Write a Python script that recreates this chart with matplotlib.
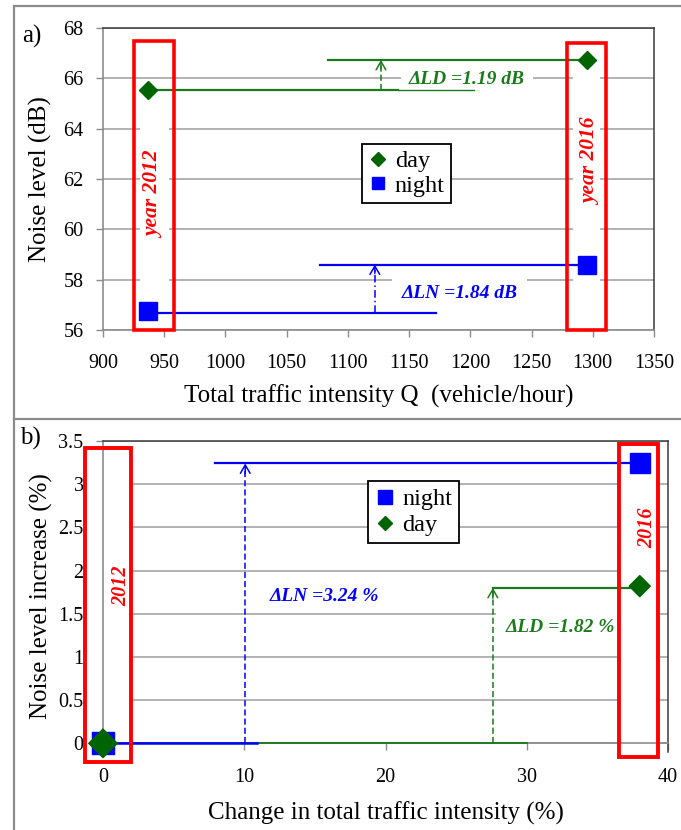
import matplotlib
matplotlib.use('Agg')
import matplotlib.pyplot as plt
from matplotlib.lines import Line2D
from matplotlib.patches import Rectangle
from matplotlib.ticker import FormatStrFormatter

plt.rcParams['font.family'] = ['Liberation Serif', 'DejaVu Serif']

# panel a) noise level vs traffic intensity
q_a = [937, 1295]            # vehicle/hour, 2012 and 2016
day_a = [65.54, 66.73]       # dB
night_a = [56.76, 58.60]     # dB
years = ['2012', '2016']

# panel b) relative increase
dq_b = [0, 38]               # change in traffic intensity (%)
night_b = [0, 3.24]          # %
day_b = [0, 1.82]            # %

GREEN = '#006400'
GLINE = '#1b7a1b'
BLUE = '#0000ff'
RED = '#ff0000'
GRID = '#a6a6a6'

W, H = 681, 830
fig = plt.figure(figsize=(W / 100, H / 100), dpi=100)


def px_axes(l, t, r, b):
    return fig.add_axes([l / W, 1 - b / H, (r - l) / W, (b - t) / H])


def style(ax):
    ax.set_axisbelow(True)
    ax.grid(axis='y', color=GRID, lw=1.2)
    for s in ['left', 'bottom']:
        ax.spines[s].set_color('#8c8c8c')
        ax.spines[s].set_linewidth(1.2)
    for s in ['top', 'right']:
        ax.spines[s].set_color('#3a3a3a')
        ax.spines[s].set_linewidth(1.1)
    ax.tick_params(direction='out', length=5, width=1, color='#8c8c8c',
                   labelsize=14.5, pad=9)
    ax.tick_params(axis='x', pad=12.5)


def arrow(ax, x, y0, y1, color, dashes, head):
    ax.plot([x, x], [y0, y1 - head * 0.3], color=color, lw=1.1, dashes=dashes, zorder=3)
    ax.annotate('', xy=(x, y1), xytext=(x, y1 - head),
                arrowprops=dict(arrowstyle='->,head_length=0.6,head_width=0.35',
                                color=color, lw=1.1, shrinkA=0, shrinkB=0), zorder=3)


# ---------------- a) ----------------
ax1 = px_axes(103, 28, 654, 330)
style(ax1)
ax1.set_xlim(900, 1350)
ax1.set_ylim(56, 68)
ax1.set_xticks(range(900, 1351, 50))
ax1.set_yticks(range(56, 69, 2))
ax1.set_xlabel('Total traffic intensity Q  (vehicle/hour)', fontsize=18, labelpad=8)
ax1.set_ylabel('Noise level (dB)', fontsize=18, labelpad=8)

# year boxes
ax1.add_patch(Rectangle((930, 57.3), 24, 7.9, fc='white', ec='none', zorder=1.5))
ax1.add_patch(Rectangle((1284, 57.5), 22, 9.0, fc='white', ec='none', zorder=1.5))
ax1.add_patch(Rectangle((925, 56), 33, 11.5, fill=False, ec=RED, lw=2.6, zorder=4, clip_on=False))
ax1.add_patch(Rectangle((1279, 56), 32, 11.4, fill=False, ec=RED, lw=2.6, zorder=4, clip_on=False))
ax1.text(942, 61.37, 'year ' + years[0], rotation=90, color=RED, fontsize=15.5,
         fontweight='bold', fontstyle='italic', ha='center', va='center', zorder=2)
ax1.text(1299, 62.68, 'year ' + years[1], rotation=90, color=RED, fontsize=15.5,
         fontweight='bold', fontstyle='italic', ha='center', va='center', zorder=2)

# difference lines
ax1.plot([1084, q_a[1]], [day_a[1]] * 2, color=GLINE, lw=1.6, zorder=3)
ax1.plot([q_a[0], 1141], [day_a[0]] * 2, color=GLINE, lw=1.6, zorder=3)
ax1.plot([1141, 1203], [day_a[0]] * 2, color=GLINE, lw=1.0, zorder=3)
arrow(ax1, 1127, day_a[0], day_a[1], GLINE, (4, 2), 0.35)
ax1.plot([1077, q_a[1]], [night_a[1]] * 2, color=BLUE, lw=1.6, zorder=3)
ax1.plot([q_a[0], 1172], [night_a[0] - 0.08] * 2, color=BLUE, lw=1.6, zorder=3)
arrow(ax1, 1122, night_a[0] - 0.08, night_a[1], BLUE, (5, 2, 1, 2), 0.35)

ax1.text(1150, 65.97, 'ΔLD =%.2f dB' % (day_a[1] - day_a[0]), color=GLINE, fontsize=14,
         fontweight='bold', fontstyle='italic', ha='left', va='center', zorder=2.8,
         bbox=dict(boxstyle='square,pad=0.4', fc='white', ec='none'))
ax1.text(1144, 57.47, 'ΔLN =%.2f dB' % (night_a[1] - night_a[0]), color=BLUE, fontsize=14,
         fontweight='bold', fontstyle='italic', ha='left', va='center', zorder=2.8,
         bbox=dict(boxstyle='square,pad=0.5', fc='white', ec='none'))

ax1.plot(q_a, day_a, 'D', color=GREEN, ms=9.2, zorder=6, clip_on=False)
ax1.plot(q_a, night_a, 's', color=BLUE, ms=13, zorder=6, clip_on=False)

h_day = Line2D([], [], ls='none', marker='D', color=GREEN, ms=7)
h_night = Line2D([], [], ls='none', marker='s', color=BLUE, ms=9)
leg = ax1.legend([h_day, h_night], ['day', 'night'], loc='upper left',
                 bbox_to_anchor=(0.47, 0.616), borderaxespad=0, fontsize=17.5,
                 fancybox=False, edgecolor='black', framealpha=1, borderpad=0.25,
                 labelspacing=0.1, handlelength=0.8, handletextpad=0.3)
leg.get_frame().set_linewidth(1.3)
leg.set_zorder(7)

# ---------------- b) ----------------
ax2 = px_axes(103, 441, 668, 752)
style(ax2)
ax2.set_xlim(0, 40)
ax2.set_ylim(-0.1, 3.5)
ax2.spines['bottom'].set_position(('data', 0))
ax2.set_xticks(range(0, 41, 10))
ax2.set_yticks([0, 0.5, 1, 1.5, 2, 2.5, 3, 3.5])
ax2.yaxis.set_major_formatter(FormatStrFormatter('%g'))
ax2.set_xlabel('Change in total traffic intensity (%)', fontsize=18, labelpad=11)
ax2.set_ylabel('Noise level increase (%)', fontsize=18, labelpad=4)

ax2.add_patch(Rectangle((-1.27, -0.21), 3.25, 3.63, fc='white', ec='none', zorder=1.5, clip_on=False))
ax2.add_patch(Rectangle((36.5, -0.16), 2.8, 3.63, fc='white', ec='none', zorder=1.5, clip_on=False))
ax2.add_patch(Rectangle((-1.27, -0.21), 3.25, 3.63, fill=False, ec=RED, lw=2.8, zorder=4, clip_on=False))
ax2.add_patch(Rectangle((36.5, -0.16), 2.8, 3.63, fill=False, ec=RED, lw=2.8, zorder=4, clip_on=False))
ax2.text(1.27, 1.82, years[0], rotation=90, color=RED, fontsize=14.5,
         fontweight='bold', fontstyle='italic', ha='center', va='center', zorder=2)
ax2.text(38.5, 2.50, years[1], rotation=90, color=RED, fontsize=14.5,
         fontweight='bold', fontstyle='italic', ha='center', va='center', zorder=2)

ax2.plot([dq_b[0], 30.0], [day_b[0]] * 2, color=GLINE, lw=1.3, zorder=3)
ax2.plot([dq_b[0], 10.9], [night_b[0]] * 2, color=BLUE, lw=1.8, zorder=3.1)
ax2.plot([7.9, dq_b[1]], [night_b[1]] * 2, color=BLUE, lw=1.6, zorder=3)
ax2.plot([27.6, dq_b[1]], [day_b[1] - 0.02] * 2, color=GLINE, lw=1.6, zorder=3)
arrow(ax2, 10.07, 0, night_b[1], BLUE, (4, 2), 0.12)
arrow(ax2, 27.6, 0, day_b[1] - 0.02, GLINE, (4, 2), 0.12)

ax2.text(11.8, 1.70, 'ΔLN =%.2f %%' % night_b[1], color=BLUE, fontsize=14,
         fontweight='bold', fontstyle='italic', ha='left', va='center', zorder=2.8)
ax2.text(28.5, 1.344, 'ΔLD =%.2f %%' % day_b[1], color=GLINE, fontsize=14,
         fontweight='bold', fontstyle='italic', ha='left', va='center', zorder=2.8,
         bbox=dict(boxstyle='square,pad=0.5', fc='white', ec='none'))

ax2.scatter(dq_b, night_b, marker='s', s=[16 ** 2, 14.4 ** 2], color=BLUE, zorder=6, clip_on=False)
ax2.scatter(dq_b, day_b, marker='D', s=[14.5 ** 2, 10.7 ** 2], color=GREEN, zorder=6.5, clip_on=False)

h_night2 = Line2D([], [], ls='none', marker='s', color=BLUE, ms=10)
h_day2 = Line2D([], [], ls='none', marker='D', color=GREEN, ms=7.5)
leg2 = ax2.legend([h_night2, h_day2], ['night', 'day'], loc='upper left',
                  bbox_to_anchor=(0.469, 0.871), borderaxespad=0, fontsize=17.5,
                  fancybox=False, edgecolor='black', framealpha=1, borderpad=0.3,
                  labelspacing=0.15, handlelength=0.8, handletextpad=0.3)
leg2.get_frame().set_linewidth(1.3)
leg2.set_zorder(7)

# frame of the composite figure
for xs, ys in [([14 / W, 14 / W], [0, 1 - 6 / H]),
               ([14 / W, 1], [1 - 6 / H, 1 - 6 / H]),
               ([14 / W, 1], [1 - 419 / H, 1 - 419 / H])]:
    fig.add_artist(Line2D(xs, ys, transform=fig.transFigure, color='#8c8c8c', lw=1.6))

fig.text(22 / W, 1 - 36 / H, 'a)', fontsize=18, ha='left', va='center')
fig.text(20 / W, 1 - 438 / H, 'b)', fontsize=18, ha='left', va='center')

fig.savefig('out.png', dpi=100)
